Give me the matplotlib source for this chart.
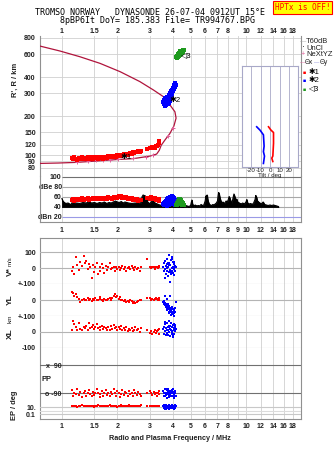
import matplotlib
matplotlib.use('Agg')
import matplotlib.pyplot as plt

plt.rcParams['font.family'] = ['Liberation Sans', 'DejaVu Sans']

W, H = 335, 451

# ---- axis ticks ----
freq_ticks = [1, 1.5, 2, 3, 4, 5, 6, 7, 8, 9, 10, 12, 14, 16, 18]
freq_labels = ['1', '1.5', '2', '3', '4', '5', '6', '7', '8', '', '10', '12', '14', '16', '18']
freq_labels_mid = ['1', '1.5', '2', '3', '4', '5', '6', '7', '8', '9', '10', '12', '14', '16', '18']
height_ticks = [80, 90, 100, 120, 150, 200, 300, 400, 600, 800]
db_ticks = [100, 80, 60, 40, 20]
db_labels = ['100', 'dBe 80', '60', '40', 'dBn 20']

# ---- real height profile (plasma freq MHz, height km) ----
prof_f = [0.76, 0.975, 1.25, 1.61, 2.07, 2.65, 3.14, 3.55, 3.86, 4.11, 4.17, 4.06, 3.86,
          3.63, 3.46, 3.38, 3.27, 3.01, 2.44, 1.98, 1.54, 1.20, 0.955, 0.76]
prof_h = [693, 635, 574, 510, 440, 369, 318, 283, 244, 216, 193, 168, 147,
          131, 119, 109, 102, 98.4, 94, 92.5, 90.1, 88, 87, 86.4]
nexyz_f = [1.20, 1.39, 1.54, 1.68, 1.82, 2.02, 2.44, 2.88, 3.14, 3.78, 4.02]
nexyz_h = [88.5, 90.1, 91.2, 92.2, 91.7, 92.8, 95.0, 97.3, 99.6, 140, 161]

# ---- tilt profiles ----
tilt_y_h = [165, 155, 143, 117, 106, 98, 86]
tilt_y = [-14, -10.4, -7, -6.3, -7, -5.9, -7]
tilt_x_h = [165, 156, 149, 123, 98, 94.5, 89]
tilt_x = [-1.7, 0.7, 3.5, 3.5, 2.8, 1.7, 2.8]

# ---- noise / T60dB trace ----
noise_f = [1.00, 1.01, 1.03, 1.05, 1.08, 1.10, 1.12, 1.14, 1.16, 1.20, 1.25, 1.30, 1.35, 1.40,
           1.45, 1.50, 1.55, 1.60, 1.65, 1.70, 1.75, 1.80, 1.85, 1.90, 1.95, 2.00, 2.05, 2.10,
           2.15, 2.20, 2.30, 2.40, 2.50, 2.60, 2.70, 2.72, 2.76, 2.80, 2.84, 2.88, 2.92, 2.96,
           3.00, 3.05, 3.10, 3.14, 3.20, 3.30, 3.40, 3.50, 3.60, 3.70, 3.80, 3.90, 4.00, 4.10,
           4.20, 4.30, 4.40, 4.50, 4.60, 4.70, 4.80, 4.90, 5.00, 5.05, 5.08, 5.12, 5.20, 5.30,
           5.40, 5.50, 5.60, 5.70, 5.80, 5.90, 6.00, 6.05, 6.10, 6.15, 6.20, 6.30, 6.40, 6.50,
           6.60, 6.70, 6.80, 6.90, 7.00, 7.05, 7.10, 7.15, 7.20, 7.30, 7.40, 7.50, 7.60, 7.70,
           7.80, 7.90, 8.00, 8.10, 8.20, 8.30, 8.40, 8.50, 8.60, 8.70, 8.80, 8.90, 9.00, 9.20,
           9.40, 9.60, 9.80, 10.0, 10.1, 10.2, 10.4, 10.6, 10.8, 11.0, 11.2, 11.3, 11.4, 11.5,
           11.7, 11.9, 12.1, 12.4, 12.6, 12.9, 13.2, 13.5, 13.8, 14.1, 14.4, 14.7, 15.0]
noise_db = [57, 52, 49, 47, 48, 46, 45, 50, 47, 48, 47, 49, 48, 50,
            48, 49, 47, 49, 48, 50, 47, 49, 48, 50, 52, 50, 49, 51,
            48, 50, 48, 47, 48, 47, 49, 60, 64, 63, 62, 56, 50, 48,
            47, 50, 56, 52, 48, 46, 44, 43, 42, 42, 41, 42, 42, 41,
            42, 41, 42, 41, 42, 43, 42, 41, 43, 50, 54, 46, 42, 44,
            42, 43, 42, 45, 43, 44, 52, 62, 58, 64, 54, 46, 44, 43,
            45, 44, 46, 48, 52, 62, 69, 66, 60, 52, 48, 50, 47, 49,
            52, 50, 54, 61, 56, 50, 48, 58, 66, 60, 52, 56, 50, 48,
            46, 48, 46, 50, 55, 48, 46, 47, 45, 48, 55, 63, 60, 53,
            50, 48, 46, 50, 45, 44, 43, 44, 43, 44, 43, 42, 41]

# ---- trace 1 echoes (red) ----
f_red = [1.13, 1.15, 1.17, 1.19, 1.21, 1.24, 1.26, 1.28, 1.31, 1.33, 1.35, 1.38, 1.40, 1.42, 1.45,
         1.47, 1.50, 1.52, 1.55, 1.57, 1.60, 1.62, 1.65, 1.68, 1.70, 1.73, 1.76, 1.79, 1.82, 1.85,
         1.88, 1.91, 1.94, 1.97, 2.00, 2.03, 2.06, 2.10, 2.13, 2.17, 2.20, 2.24, 2.28, 2.31, 2.35,
         2.39, 2.43, 2.47, 2.51, 2.55, 2.60, 2.64, 2.68, 2.90, 3.00, 3.05, 3.10, 3.15, 3.20, 3.24,
         3.28, 3.32, 3.35, 3.38]
h_red = [95, 93, 96, 94, 92, 95, 93, 96, 94, 95, 93, 96, 94, 97, 95,
         94, 96, 95, 97, 94, 96, 95, 97, 94, 96, 97, 95, 98, 96, 97,
         98, 96, 99, 97, 100, 98, 101, 99, 100, 102, 101, 103, 100, 102, 104,
         103, 105, 104, 106, 105, 107, 106, 108, 112, 114, 113, 115, 116, 114, 117,
         118, 120, 124, 128]
a_red = [53, 55, 52, 56, 54, 55, 53, 57, 54, 56, 55, 57, 54, 56, 55,
         57, 55, 58, 56, 57, 55, 58, 56, 57, 55, 58, 56, 59, 57, 58,
         56, 59, 57, 60, 58, 61, 59, 62, 58, 60, 57, 59, 56, 58, 55,
         57, 54, 56, 53, 55, 52, 54, 53, 58, 56, 60, 57, 55, 58, 54,
         56, 53, 55, 52]
v_red = [-20, 5, -35, 70, 20, -10, 40, 15, 75, 30, 45, -5, 25, 10, -60,
         20, -25, 5, 30, -40, 10, -15, 25, 0, -30, 15, -10, 5, 35, -5,
         0, 10, -15, 5, -5, 10, -10, 0, 15, -5, 5, -15, 0, 10, -5,
         15, 0, -10, 5, -5, 0, -20, 10, 57, 5, 0, 10, 5, -5, 10,
         5, 0, 15, 10]
yl_red = [55, 45, 30, 38, 20, 10, -8, 5, 8, 0, 5, 12, 3, 8, -2,
          10, 0, 15, 5, 2, 8, 20, 3, -3, 10, 5, 0, 8, 12, 3,
          15, 25, 40, 20, 30, 10, 18, 0, 5, -5, 2, -8, -3, -12, 0,
          -5, -15, -8, -18, -10, -5, 0, 5, 12, 15, 5, 10, 0, 8, 15,
          10, 5, 2, 12]
xl_red = [10, 70, 50, 30, 15, 60, 20, 10, 35, 25, 40, 15, 60, 25, 30,
          45, 20, 35, 50, 25, 30, 15, 40, 20, 35, 25, 10, 30, 15, 40,
          20, 45, 25, 35, 15, 30, 20, 40, 10, 25, 15, 30, 5, 20, 10,
          25, 5, 15, 30, 10, 20, 0, 25, 15, -5, 5, -10, 0, 10, -5,
          5, 15, -10, 20]
pp_red = [-70, -110, -85, -95, -65, -100, -80, -115, -90, -75, -105, -85, -70, -95, -110,
          -80, -100, -90, -65, -85, -115, -95, -75, -105, -90, -70, -100, -85, -110, -80,
          -95, -65, -90, -105, -75, -85, -115, -95, -70, -100, -80, -90, -110, -75, -95,
          -85, -105, -70, -90, -100, -80, -95, -110, -85, -75, -90, -100, -80, -95, -85,
          -105, -90, -75, -95]
ep_red = [25, 18, 30, 22, 15, 28, 20, 35, 24, 17, 26, 21, 32, 19, 27,
          23, 16, 29, 22, 34, 20, 25, 18, 31, 24, 17, 28, 22, 36, 19,
          26, 21, 30, 23, 16, 27, 20, 33, 25, 18, 24, 29, 21, 35, 19,
          26, 22, 31, 17, 28, 23, 20, 34, 25, 18, 30, 22, 27, 19, 24,
          32, 21, 26, 20]

# ---- trace 2 echoes (blue) ----
f_blue = [3.55, 3.58, 3.60, 3.62, 3.64, 3.66, 3.68, 3.70, 3.72, 3.74, 3.76, 3.78, 3.80, 3.82, 3.84,
          3.86, 3.88, 3.90, 3.92, 3.94, 3.96, 3.98, 4.00, 4.02, 4.04, 4.06, 4.08, 4.10, 4.12, 4.14,
          3.65, 3.75, 3.85, 3.95, 4.05, 3.70, 3.80, 3.90, 4.00, 4.10]
h_blue = [255, 265, 250, 275, 260, 245, 270, 258, 280, 262, 248, 272, 285, 265, 290,
          275, 300, 285, 310, 295, 320, 305, 330, 315, 340, 325, 350, 335, 360, 345,
          240, 255, 262, 300, 332, 268, 252, 278, 318, 355]
a_blue = [45, 48, 44, 50, 47, 52, 46, 54, 49, 56, 51, 57, 53, 58, 55,
          59, 56, 60, 57, 61, 58, 62, 59, 60, 55, 57, 50, 53, 46, 48,
          43, 45, 47, 50, 46, 42, 44, 46, 48, 44]
v_blue = [10, -20, 30, -5, 45, -35, 15, 60, -15, 25, -50, 5, 80, -25, 35,
          -10, 20, -40, 50, 0, -20, 70, 10, -30, 40, -5, 25, -15, 15, 5,
          -60, 30, -85, 55, -45, 0, 20, -25, 40, 10]
yl_blue = [-10, -25, -5, -30, -15, -40, -20, -50, -35, -60, -30, -45, -70, -55, -80,
           -50, -65, -90, -60, -75, -45, -85, -70, -55, -95, -65, -80, -50, -75, -10,
           25, -20, 30, -40, -60, 10, -35, -70, -85, -45]
xl_blue = [20, -10, 35, 5, 50, -20, 25, 10, 60, -5, 30, 15, 70, 0, 40,
           -25, 20, 55, 10, -15, 35, 5, 45, -30, 25, 15, -10, 30, 5, 20,
           65, -20, 40, 0, 50, -15, 30, 10, -25, 45]
pp_blue = [-75, -105, -90, -65, -110, -85, -100, -70, -95, -120, -80, -60, -100, -90, -115,
           -75, -95, -85, -105, -70, -90, -110, -80, -65, -100, -95, -120, -85, -75, -105,
           -90, -70, -100, -80, -115, -60, -95, -85, -110, -75]
ep_blue = [20, 8, 35, 5, 15, 40, 4, 25, 10, 30, 6, 18, 45, 3, 12,
           28, 7, 22, 9, 38, 5, 16, 32, 11, 4, 26, 14, 42, 8, 19,
           3, 24, 10, 36, 6, 13, 30, 7, 17, 9]

# ---- trace 3 echoes (green) ----
f_green = [4.15, 4.20, 4.25, 4.28, 4.32, 4.35, 4.38, 4.42, 4.45, 4.48, 4.52, 4.56, 4.60,
           4.22, 4.30, 4.40, 4.50, 4.36]
h_green = [570, 580, 575, 600, 590, 610, 620, 605, 630, 640, 625, 650, 645,
           560, 585, 595, 615, 630]
a_green = [44, 47, 50, 52, 54, 55, 55, 54, 52, 50, 47, 45, 43,
           43, 45, 46, 44, 49]

RED, BLUE, GREEN = '#ff0000', '#0000ff', '#1e9a1e'
PROF = '#b0143c'
PINK = '#e0609a'
GRID = '#d0d0d0'
FRAME = '#909090'
TXT = '#202020'
FS = 5.0
XLIM = (0.76, 19.9)


def px_rect(x0, y0, x1, y1):
    return [x0 / W, 1 - y1 / H, (x1 - x0) / W, (y1 - y0) / H]


def freq_axis(ax, labels, where, pad):
    ax.set_xscale('log')
    ax.set_xlim(*XLIM)
    ax.set_xticks(freq_ticks)
    ax.set_xticklabels(labels, fontweight='bold')
    ax.xaxis.set_minor_locator(plt.NullLocator())
    ax.tick_params(axis='x', length=0, pad=pad, labelsize=FS, labelcolor=TXT,
                   top=(where == 'top'), bottom=(where == 'bottom'),
                   labeltop=(where == 'top'), labelbottom=(where == 'bottom'))
    for f in freq_ticks:
        ax.axvline(f, color=GRID, lw=0.6, zorder=0)


def bold_y(ax):
    for t in ax.get_yticklabels():
        t.set_fontweight('bold')


fig = plt.figure(figsize=(W / 100, H / 100), dpi=100)

# ================= height panel =================
ax = fig.add_axes(px_rect(40, 36, 301, 176))
freq_axis(ax, freq_labels, 'top', 1)
ax.set_yscale('log')
ax.set_ylim(69.1, 828.7)
ax.set_yticks(height_ticks)
ax.set_yticklabels([str(v) for v in height_ticks])
ax.yaxis.set_minor_locator(plt.NullLocator())
ax.tick_params(axis='y', length=0, pad=3, labelsize=FS, labelcolor=TXT)
bold_y(ax)
for v in height_ticks:
    ax.axhline(v, color=GRID, lw=0.6, zorder=0)
for s in ['top', 'bottom']:
    ax.spines[s].set_visible(False)
for s in ['left', 'right']:
    ax.spines[s].set_color(FRAME)
    ax.spines[s].set_linewidth(0.8)

ax.plot(prof_f, prof_h, color=PROF, lw=0.9, zorder=3)
ax.plot(nexyz_f, nexyz_h, ls='none', marker='+', ms=3, mew=0.7, color=PINK, zorder=4)
ax.plot(f_red, h_red, ls='none', marker='s', ms=2.4, mew=0, color=RED, zorder=5)
ax.plot(f_blue, h_blue, ls='none', marker='s', ms=2.6, mew=0, color=BLUE, zorder=5)
ax.plot(f_green, h_green, ls='none', marker='s', ms=2.8, mew=0, color=GREEN, zorder=5)
ax.text(2.08, 96.5, '\u27311', fontsize=5.8, color='black', va='center', zorder=6)
ax.text(3.83, 263, '\u27312', fontsize=5.8, color='black', va='center', zorder=6)
ax.text(4.41, 574, '\u25c13', fontsize=5.8, color='black', va='center', zorder=6)

# tilt inset
axi = fig.add_axes(px_rect(242.3, 65.7, 298, 167.3))
axi.set_zorder(5)
axi.set_yscale('log')
axi.set_ylim(80.3, 489)
axi.set_xlim(-29, 29)
axi.set_xticks([-20, -10, 0, 10, 20])
axi.set_xticklabels(['-20', '-10', '0', '10', '20'])
axi.set_yticks([])
axi.yaxis.set_minor_locator(plt.NullLocator())
axi.tick_params(axis='x', length=0, pad=0.5, labelsize=4.4, labelcolor=TXT)
for t in [-20, -10, 0, 10, 20]:
    axi.axvline(t, color='#a8a8c8', lw=0.6, zorder=0)
for s in axi.spines.values():
    s.set_color('#a8a8c8')
    s.set_linewidth(0.8)
axi.set_xlabel('Tilt / deg', fontsize=4.4, labelpad=0, color=TXT)
axi.plot(tilt_y, tilt_y_h, color=BLUE, lw=1.2)
axi.plot(tilt_x, tilt_x_h, color=RED, lw=1.2)

# ================= amplitude panel =================
axd = fig.add_axes(px_rect(40, 176, 301, 221.7))
axd.patch.set_visible(False)
freq_axis(axd, freq_labels_mid, 'bottom', 4)
axd.set_ylim(10.6, 102)
axd.set_yticks(db_ticks)
axd.set_yticklabels(db_labels)
axd.tick_params(axis='y', length=0, pad=-15.6, labelsize=FS, labelcolor=TXT)
bold_y(axd)
axd.spines['top'].set_visible(False)
for s in ['left', 'right', 'bottom']:
    axd.spines[s].set_color(FRAME)
    axd.spines[s].set_linewidth(0.8)
db_colors = ['#707070', '#a8a8a8', '#a8a8a8', '#a8a8a8', '#9a9ae6']
axd.hlines(db_ticks, 1.0, XLIM[1], colors=db_colors, lw=0.8, zorder=1)
axd.fill_between(noise_f, 40, noise_db, color='black', lw=0.6, zorder=2)
axd.plot(noise_f, noise_db, color='black', lw=0.8, zorder=2)
axd.plot(f_red, a_red, ls='none', marker='s', ms=2.2, mew=0, color=RED, zorder=3)
axd.plot(f_blue, a_blue, ls='none', marker='s', ms=3, mew=0, color=BLUE, zorder=3)
axd.plot(f_green, a_green, ls='none', marker='s', ms=3, mew=0, color=GREEN, zorder=3)

# ================= doppler / location / polarisation panel =================
axb = fig.add_axes(px_rect(40, 237.7, 301, 419))
freq_axis(axb, freq_labels, 'bottom', 3)
axb.set_yticks([])
for s in axb.spines.values():
    s.set_color(FRAME)
    s.set_linewidth(0.8)


def strip(rect, ylim, ticks, labels, lines, pad=3, log=False):
    a = fig.add_axes(px_rect(*rect), sharex=axb)
    a.patch.set_visible(False)
    if log:
        a.set_yscale('log')
    a.set_ylim(*ylim)
    a.set_yticks(ticks)
    a.set_yticklabels(labels)
    a.yaxis.set_minor_locator(plt.NullLocator())
    a.tick_params(axis='y', length=0, pad=pad, labelsize=FS, labelcolor=TXT)
    bold_y(a)
    a.tick_params(axis='x', bottom=False, labelbottom=False)
    for s in a.spines.values():
        s.set_visible(False)
    for v, c in lines:
        a.axhline(v, color=c, lw=0.8, zorder=1)
    return a


LG = '#b4b4b4'
axv = strip((40, 244, 301, 284), (-100, 152), [100, 0, -100], ['100', '0', '+-100'],
            [(100, LG), (0, LG), (-100, LG)])
axv.plot(f_red, v_red, ls='none', marker='s', ms=1.8, mew=0, color=RED)
axv.plot(f_blue, v_blue, ls='none', marker='s', ms=2.0, mew=0, color=BLUE)

axy = strip((40, 284.3, 301, 316.3), (-100, 100), [0, -100], ['0', '+-100'],
            [(0, LG), (-100, LG)])
axy.plot(f_red, yl_red, ls='none', marker='s', ms=1.8, mew=0, color=RED)
axy.plot(f_blue, yl_blue, ls='none', marker='s', ms=2.0, mew=0, color=BLUE)

axx = strip((40, 316.3, 301, 347.7), (-100, 100), [0, -100], ['0', '-100'],
            [(0, LG), (-100, LG)])
axx.plot(f_red, xl_red, ls='none', marker='s', ms=1.8, mew=0, color=RED)
axx.plot(f_blue, xl_blue, ls='none', marker='s', ms=2.0, mew=0, color=BLUE)

axp = strip((40, 358, 301, 400), (-133, 137), [90, -90], ['x  90', 'o -90'],
            [(90, '#707070'), (-90, '#707070')], pad=-15.6)
axp.plot(f_red, pp_red, ls='none', marker='s', ms=1.8, mew=0, color=RED)
axp.plot(f_blue, pp_blue, ls='none', marker='s', ms=2.0, mew=0, color=BLUE)

axe = strip((40, 400, 301, 419), (0.0045, 1220), [10, 1, 0.1], ['10.', '', '0.1'],
            [(10, '#c8c8c8'), (1, '#dcdcdc'), (0.1, '#c8c8c8')], log=True)
axe.plot(f_red, ep_red, ls='none', marker='s', ms=1.8, mew=0, color=RED)
axe.plot(f_blue, ep_blue, ls='none', marker='s', ms=2.0, mew=0, color=BLUE)


# ================= labels =================
def ftext(x, y, s, **kw):
    kw.setdefault('fontsize', FS)
    kw.setdefault('color', TXT)
    kw.setdefault('ha', 'center')
    kw.setdefault('va', 'center')
    fig.text(x / W, 1 - y / H, s, **kw)


ftext(150, 12.3, 'TROMSO NORWAY   DYNASONDE 26-07-04 0912UT 15\u00b0E',
      family='DejaVu Sans Mono', fontsize=6.0, color='black')
ftext(157.5, 20.7, '8pBP6It DoY= 185.383 File= TR994767.BPG',
      family='DejaVu Sans Mono', fontsize=6.0, color='black')
ftext(302.5, 7.3, 'HPTx is OFF!', family='DejaVu Sans Mono', fontsize=5.6, color='red',
      bbox=dict(boxstyle='square,pad=0.25', facecolor='#ffff00', edgecolor='red', lw=0.8))

ftext(15, 80, "R', R / km", rotation=90, fontweight='bold', fontsize=5.4)
ftext(10, 272, 'V*', rotation=90, fontweight='bold', fontsize=6)
ftext(10.5, 261, 'm/s', rotation=90, fontsize=4.3)
ftext(10.5, 299.5, 'YL', rotation=90, fontweight='bold', fontsize=6)
ftext(10.5, 318.5, 'km', rotation=90, fontsize=4.6)
ftext(10.5, 333.5, 'XL', rotation=90, fontweight='bold', fontsize=6)
ftext(46.5, 379.3, 'PP', fontweight='bold', fontsize=5.4)
ftext(14, 405, 'EP / deg', rotation=90, fontweight='bold', fontsize=5.4)
ftext(170, 439, 'Radio and Plasma Frequency / MHz', fontweight='bold', fontsize=5.2)

# legend column
LFS = 5.4
ftext(303, 41.7, '\u2014', color='#a0a0a0', fontsize=4.5)
ftext(306, 41.7, 'T60dB', ha='left', fontsize=LFS)
ftext(303, 48, '\u00b7', color='black', fontsize=6)
ftext(306, 48, 'UnCl', ha='left', fontsize=LFS)
ftext(303, 54.5, '+', color=PINK, fontsize=LFS)
ftext(306, 54.5, 'NeXtYZ', ha='left', fontsize=LFS)
ftext(303, 62.7, '\u2014', color=PINK, fontsize=4.2)
ftext(305, 62.7, '\u0398x', ha='left', fontsize=4.7)
ftext(317, 62.7, '\u2014', color='#8c8cd8', fontsize=3.8)
ftext(319.5, 62.7, '\u0398y', ha='left', fontsize=4.7)
ftext(304, 72.7, '\u25a0', color=RED, fontsize=3.8)
ftext(308.5, 72.7, '\u27311', ha='left', color='black', fontsize=5.6)
ftext(304, 80, '\u25a0', color=BLUE, fontsize=3.8)
ftext(308.5, 80, '\u27312', ha='left', color='black', fontsize=5.6)
ftext(304, 89.3, '\u25a0', color=GREEN, fontsize=3.8)
ftext(308.5, 89.3, '\u25c13', ha='left', color='black', fontsize=5.6)

fig.savefig('out.png', dpi=100)
